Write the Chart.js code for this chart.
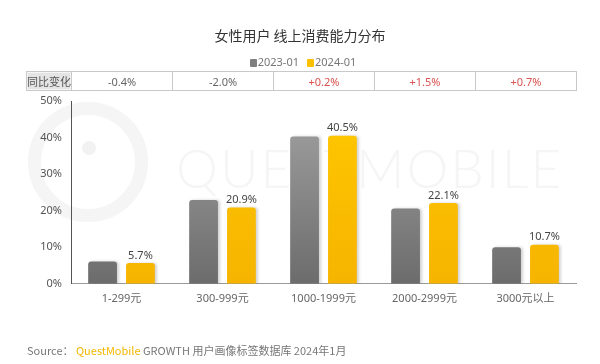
<!DOCTYPE html>
<html>
<head>
<meta charset="utf-8">
<script src="https://cdn.jsdelivr.net/npm/chart.js@4.4.1/dist/chart.umd.min.js"></script>
<style>
  html, body { margin: 0; padding: 0; background: #fff; }
  body { width: 600px; height: 364px; position: relative; overflow: hidden;
         font-family: "Noto Sans", "Noto Sans CJK SC", sans-serif; }
  .wm-text { position: absolute; left: 176px; top: 136px; font-family: "Lato", sans-serif; font-weight: 300;
             font-size: 53px; letter-spacing: 2px; color: #f5f5f5; white-space: nowrap; }
  .wm-ring { position: absolute; left: 28px; top: 102px; width: 94px; height: 94px; border-radius: 50%;
             border: 13px solid #f5f5f5; }
  .wm-dot { position: absolute; left: 82px; top: 141px; width: 14px; height: 14px; border-radius: 50%; background: #f2f2f2; }
  .chart-wrap { position: absolute; left: 0; top: 0; width: 600px; height: 364px; }
  .title { position: absolute; left: 0; top: 25px; width: 600px; text-align: center;
           font-size: 14px; color: #333; font-family: "Noto Sans CJK SC", sans-serif; }
  .legend { position: absolute; left: 0; top: 54px; width: 606px; text-align: center; font-size: 11px; color: #777; }
  .legend span.item { margin: 0 4px; }
  .legend i { display: inline-block; width: 7px; height: 8px; margin-right: 1px; vertical-align: -1px; border-radius: 1px; }
  table.yoy { position: absolute; left: 26px; top: 71px; border-collapse: collapse; font-size: 11px; color: #666; }
  table.yoy td { border: 1px solid #c9c9c9; height: 18px; padding: 0; text-align: center; }
  table.yoy td.head { width: 44px; background: #e4e4e4; color: #555; font-family: "Noto Sans CJK SC", sans-serif;
                      box-shadow: inset 0 0 0 1px #f4f4f4; }
  table.yoy td.val { width: 100px; }
  table.yoy td.up { color: #d9534f; }
  .source { position: absolute; left: 27px; top: 342px; font-size: 11px; color: #777; white-space: nowrap;
            font-family: "Noto Sans CJK SC", sans-serif; }
  .source .brand { color: #f3b700; }
</style>
</head>
<body>
<div class="wm-ring"></div>
<div class="wm-dot"></div>
<div class="wm-text">QUESTMOBILE</div>
<div class="chart-wrap"><canvas id="chart" width="600" height="364"></canvas></div>
<div class="title">女性用户 线上消费能力分布</div>
<div class="legend" id="legend"></div>
<table class="yoy"><tr id="yoy_row"><td class="head">同比变化</td></tr></table>
<div class="source">Source：&nbsp;<span class="brand">QuestMobile</span> GROWTH 用户画像标签数据库 2024年1月</div>

<script>
var categories = ["1-299元", "300-999元", "1000-1999元", "2000-2999元", "3000元以上"];
var series_names = ["2023-01", "2024-01"];
var values_2023 = [6.1, 22.9, 40.3, 20.6, 10.0];
var values_2024 = [5.7, 20.9, 40.5, 22.1, 10.7];
var yoy_changes = ["-0.4%", "-2.0%", "+0.2%", "+1.5%", "+0.7%"];
var y_ticks = [0, 10, 20, 30, 40, 50];

var swatch_colors = ["#7f7f7f", "#ffc000"];

Chart.defaults.font.family = '"Noto Sans", "Noto Sans CJK SC", sans-serif';
Chart.defaults.font.size = 11;
Chart.defaults.color = "#666";

// legend + yoy row, built from the arrays
var legend = document.getElementById("legend");
series_names.forEach(function(name, i) {
  var item = document.createElement("span");
  item.className = "item";
  item.innerHTML = '<i style="background:' + swatch_colors[i] + '"></i>' + name;
  legend.appendChild(item);
});
var yoy_row = document.getElementById("yoy_row");
yoy_changes.forEach(function(txt) {
  var td = document.createElement("td");
  td.className = "val" + (txt.charAt(0) == "+" ? " up" : "");
  td.textContent = txt;
  yoy_row.appendChild(td);
});

function barGradient(top, bottom) {
  return function(context) {
    var area = context.chart.chartArea;
    if (!area) return bottom;
    var g = context.chart.ctx.createLinearGradient(0, area.top, 0, area.bottom);
    g.addColorStop(0, top);
    g.addColorStop(1, bottom);
    return g;
  };
}

var barShadow = {
  id: "barShadow",
  beforeDatasetsDraw: function(chart) {
    var ctx = chart.ctx;
    ctx.save();
    ctx.shadowColor = "rgba(0,0,0,0.18)";
    ctx.shadowBlur = 3;
    ctx.shadowOffsetX = 2;
    ctx.shadowOffsetY = 0;
  },
  afterDatasetsDraw: function(chart) {
    chart.ctx.restore();
  }
};

var valueLabels = {
  id: "valueLabels",
  afterDraw: function(chart) {
    var ctx = chart.ctx;
    var meta = chart.getDatasetMeta(1);
    ctx.save();
    ctx.font = '11px "Noto Sans", sans-serif';
    ctx.fillStyle = "#444";
    ctx.textAlign = "center";
    ctx.textBaseline = "bottom";
    meta.data.forEach(function(bar, i) {
      ctx.fillText(values_2024[i].toFixed(1) + "%", bar.x, bar.y - 2);
    });
    ctx.restore();
  }
};

var ctx = document.getElementById("chart").getContext("2d");
var chart = new Chart(ctx, {
  type: "bar",
  data: {
    labels: categories,
    datasets: [{
      label: series_names[0],
      data: values_2023,
      backgroundColor: barGradient("#a3a3a3", "#6c6c6c"),
      borderRadius: { topLeft: 3, topRight: 3 },
      borderSkipped: "bottom",
      categoryPercentage: 0.75,
      barPercentage: 0.76
    }, {
      label: series_names[1],
      data: values_2024,
      backgroundColor: barGradient("#ffc800", "#f6b400"),
      borderRadius: { topLeft: 3, topRight: 3 },
      borderSkipped: "bottom",
      categoryPercentage: 0.75,
      barPercentage: 0.76
    }]
  },
  options: {
    responsive: false,
    animation: false,
    layout: { padding: { top: 101, left: 0, right: 24, bottom: 51 } },
    plugins: {
      legend: { display: false },
      title: { display: false },
      tooltip: { enabled: false }
    },
    scales: {
      x: {
        grid: { display: false, drawTicks: false },
        border: { color: "#9a9a9a" },
        ticks: { padding: 8, color: "#666", maxRotation: 0, autoSkip: false }
      },
      y: {
        min: 0,
        max: 50,
        afterBuildTicks: function(axis) {
          axis.ticks = y_ticks.map(function(v) { return { value: v }; });
        },
        afterFit: function(axis) { axis.width = 71; },
        grid: { display: false, drawTicks: false },
        border: { color: "#555" },
        ticks: {
          padding: 9,
          color: "#555",
          callback: function(v) { return v + "%"; }
        }
      }
    }
  },
  plugins: [barShadow, valueLabels]
});
</script>
</body>
</html>
